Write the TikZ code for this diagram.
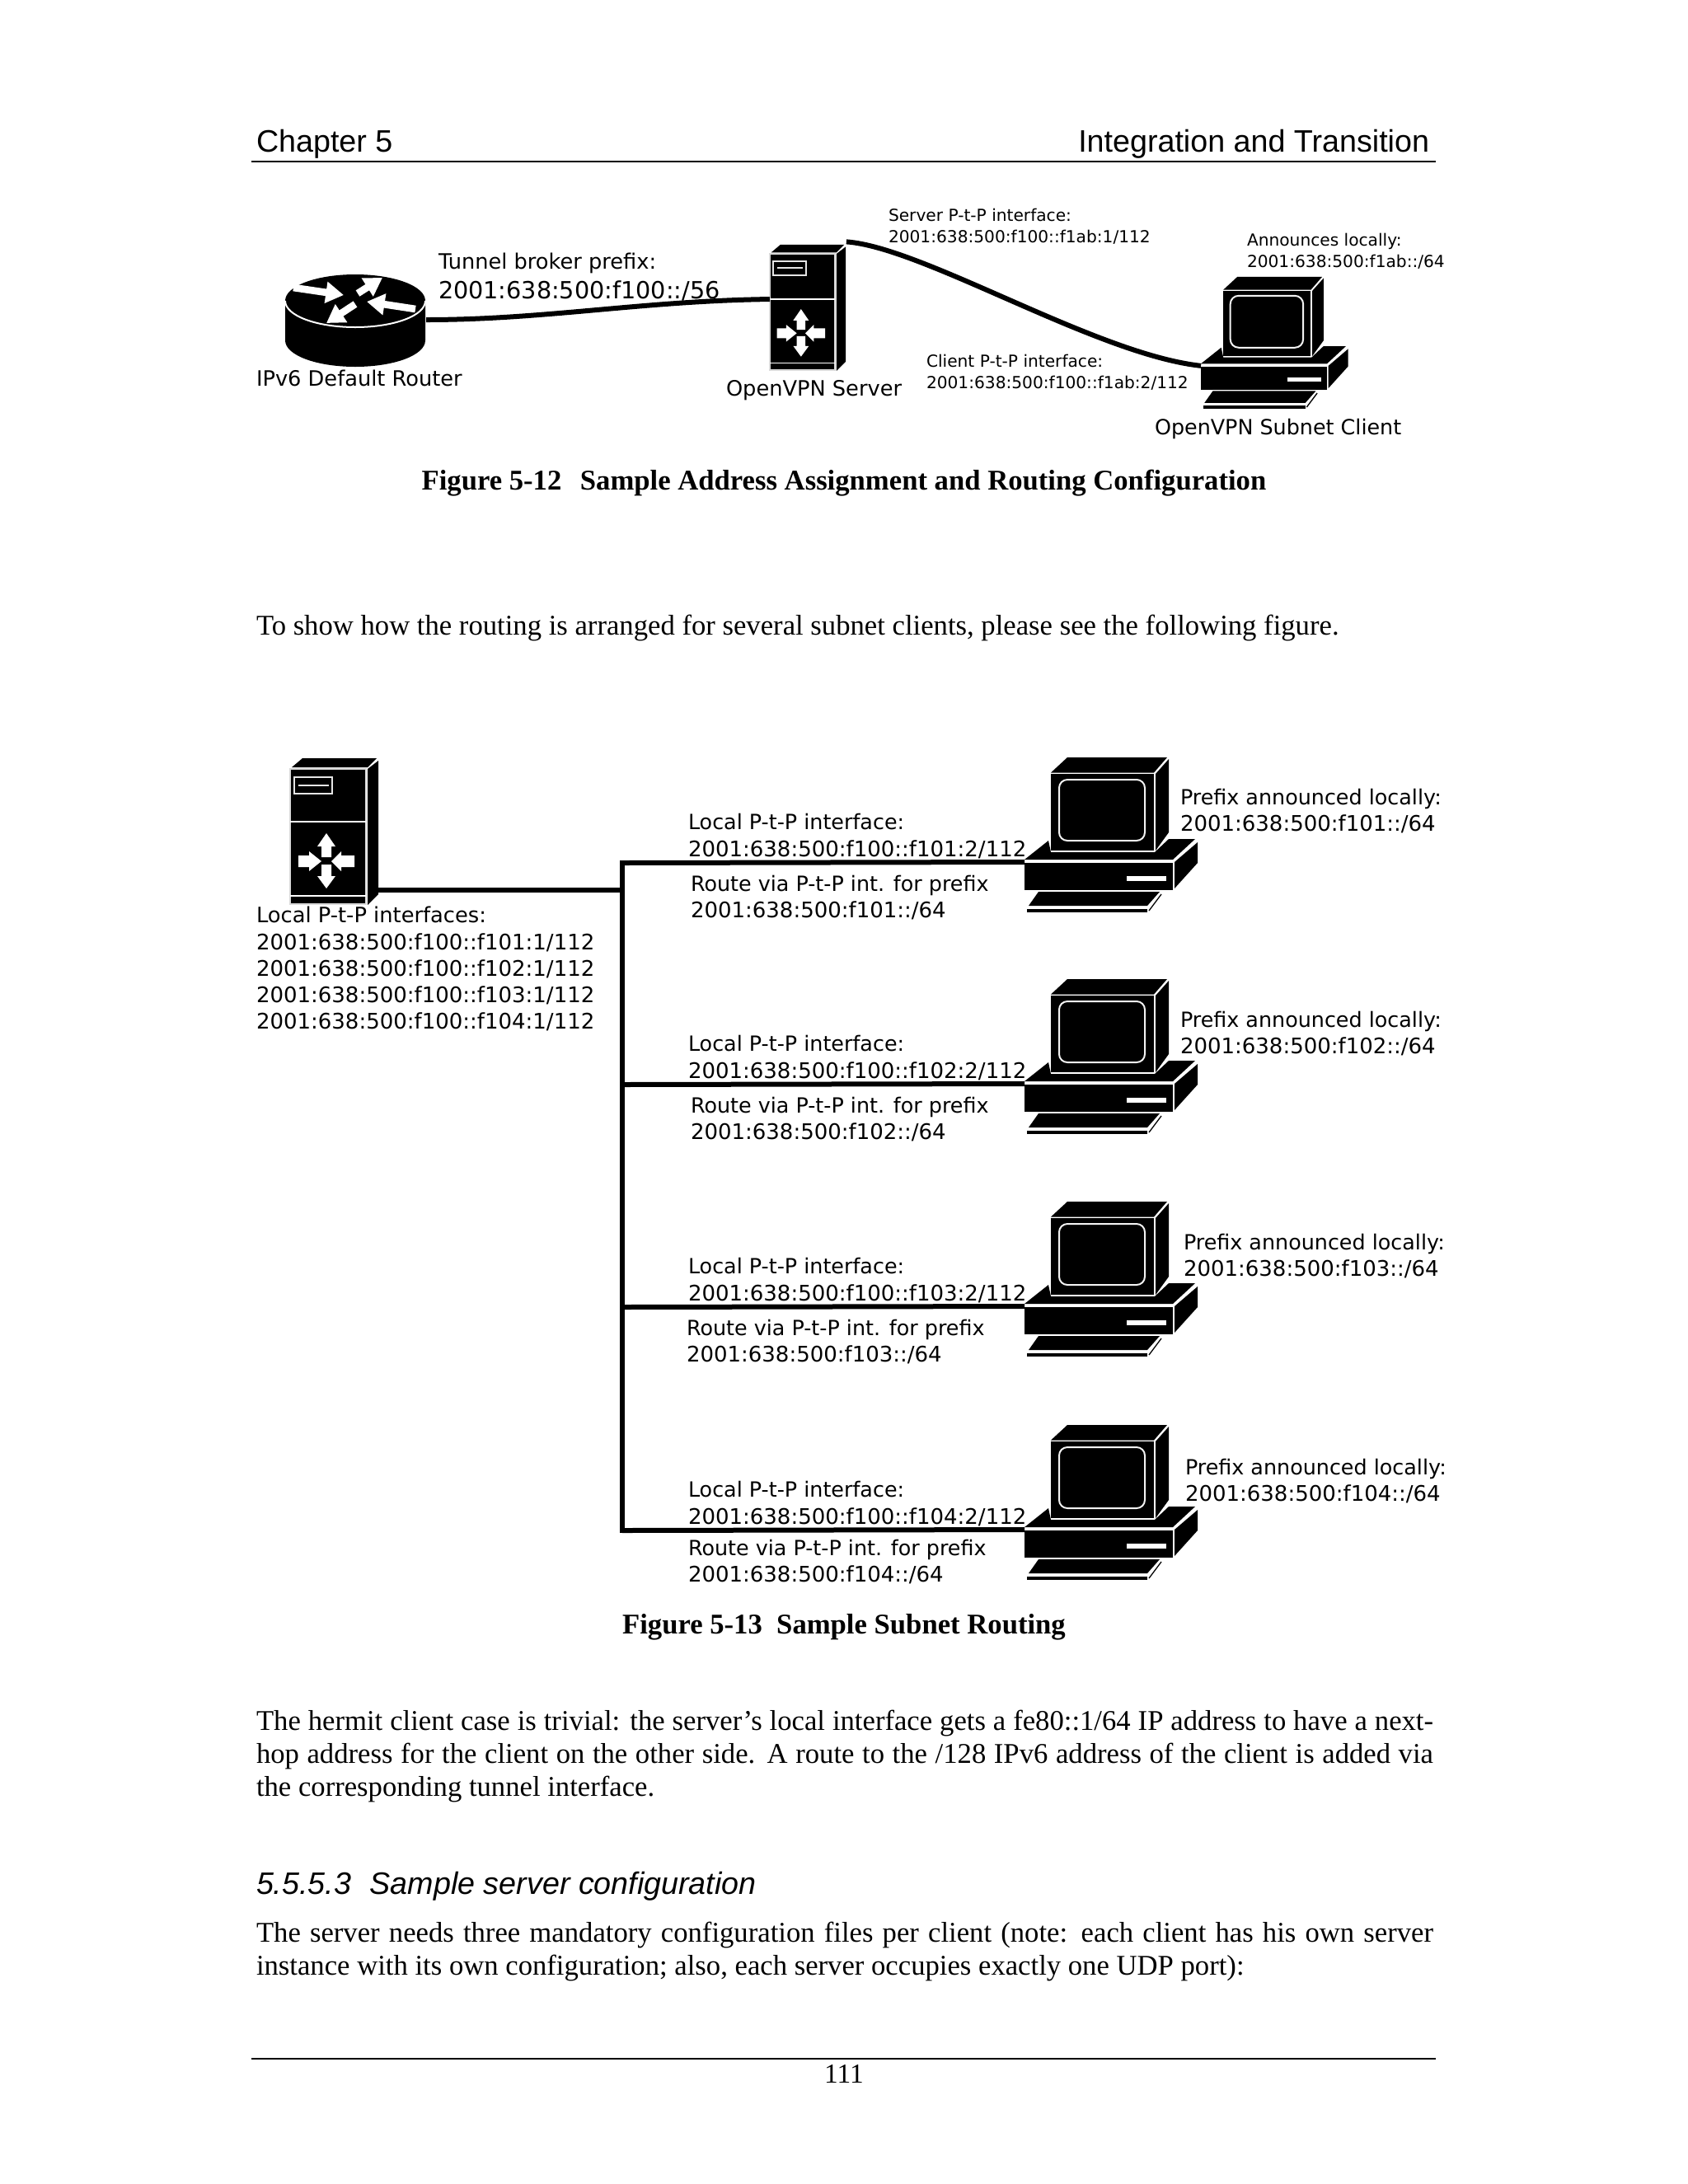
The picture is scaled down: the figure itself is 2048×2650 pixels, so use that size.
\documentclass[tikz,border=0pt]{standalone}
\usepackage{fontspec}
\setmainfont{Liberation Serif}
\setsansfont{Liberation Sans}
\newfontfamily\labfont{DejaVu Sans}
\usetikzlibrary{arrows.meta}
\tikzset{
  txt/.style={anchor=base west,inner sep=0pt,outer sep=0pt},
  labn/.style={txt,font=\labfont\fontsize{8.6pt}{10pt}\selectfont},
  labw/.style={txt,font=\labfont\fontsize{7.7pt}{10pt}\selectfont},
  labl/.style={txt,font=\labfont\fontsize{7.8pt}{9pt}\selectfont},
  labt/.style={txt,font=\labfont\fontsize{7.62pt}{9pt}\selectfont},
  labs/.style={txt,font=\labfont\fontsize{6.05pt}{7pt}\selectfont},
  bodytxt/.style={txt,font=\fontsize{10.4pt}{12pt}\selectfont},
  captxt/.style={inner sep=0pt,anchor=base,font=\bfseries\fontsize{10.4pt}{12pt}\selectfont},
  headtxt/.style={txt,font=\sffamily\fontsize{11.3pt}{14pt}\selectfont},
  wire/.style={line width=1.8pt,black},
  rulel/.style={line width=.4pt,black},
  rarrow/.style={line width=2.6pt,white,-{Triangle[length=6.5pt,width=7.5pt]}},
  pics/server/.style={code={
    \fill[black] (2,-2) -- (15,-13) -- (105,-13) -- (94,-2) -- cycle;
    \fill[black] (94,0) -- (107,-10) -- (107,152) -- (94,165) -- cycle;
    \fill[black,draw=white!85!black,line width=.45pt] (0,0) rectangle (92,164);
    \draw[white,line width=.5pt] (0,64) -- (92,64) (0,154) -- (92,154);
    \draw[white!90!black,line width=.55pt] (5,10) rectangle (51,30);
    \draw[white!90!black,line width=.55pt] (10,20) -- (47,20);
    \fill[white] (44,78) -- (55,94) -- (50,94) -- (50,107) -- (38,107) -- (38,94) -- (33,94) -- cycle;
    \fill[white] (44,145) -- (55,130) -- (50,130) -- (50,116) -- (38,116) -- (38,130) -- (33,130) -- cycle;
    \fill[white] (10,105) -- (23,105) -- (23,100) -- (38,112) -- (23,124) -- (23,119) -- (10,119) -- cycle;
    \fill[white] (78,105) -- (62,105) -- (62,100) -- (50,112) -- (62,124) -- (62,119) -- (78,119) -- cycle;
    \coordinate (-w) at (0,64);
    \coordinate (-e) at (107,147);
    \coordinate (-ne) at (108,-17);
  }},
  pics/pc/.style={code={
    % monitor, origin at base front left
    \fill[black] (32,-107.5) -- (52,-126) -- (173,-126) -- (157,-107.5) -- cycle;
    \fill[black] (159,-106) -- (175,-124) -- (175,-35) -- (159,-13) -- cycle;
    \fill[black] (32,-106) rectangle (157,-13);
    \fill[black,draw=white!95!black,line width=.6pt,rounded corners=3pt] (42,-99) rectangle (146,-25);
    % base
    \fill[black] (0,-2) -- (29,-25) -- (32,-11) -- (158,-11) -- (175,-27) -- (207,-27) -- (180,-2) -- cycle;
    \fill[black] (0,2) rectangle (180,35);
    \fill[black] (182,1) -- (210,-23) -- (210,2) -- (182,33) -- cycle;
    \fill[white] (124,18) rectangle (172,24);
    % keyboard
    \fill[black] (17,37) -- (164,37) -- (149,54) -- (5,54) -- cycle;
    \fill[black] (3,58) rectangle (149,62);
    \draw[black,line width=.4pt] (151,60) -- (166,40);
    \coordinate (-w) at (0,1);
  }}
}
\begin{document}
\begin{tikzpicture}[x=0.3pt,y=-0.3pt]
\fill[white] (0,0) rectangle (2048,2650);
\useasboundingbox (0,0) rectangle (2048,2650);

% page furniture
\node[headtxt] (hl) at (311,184) {Chapter 5};
\node[headtxt,anchor=base east] (hr) at (1734,184) {Integration and Transition};
\coordinate (rt1) at (305,196); \coordinate (rt2) at (1742,196);
\draw[rulel] (rt1) -- (rt2);
\coordinate (rb1) at (305,2498); \coordinate (rb2) at (1742,2498);
\draw[rulel] (rb1) -- (rb2);
\node[captxt,font=\fontsize{10pt}{12pt}\selectfont] (pgno) at (1024,2527) {111};

% figure 5-12
\fill[black] (346,365) -- (346,413) .. controls (346,431) and (384,445) .. (431,445) .. controls (478,445) and (516,431) .. (516,413) -- (516,365) .. controls (516,347) and (478,333) .. (431,333) .. controls (384,333) and (346,347) .. (346,365) -- cycle;
\draw[white,line width=.6pt] (346,365) .. controls (346,383) and (384,397) .. (431,397) .. controls (478,397) and (516,383) .. (516,365);
\draw[rarrow] (356,349) -- (417,358);
\draw[rarrow] (434,356) -- (464,337);
\draw[rarrow] (504,375) -- (445,366);
\draw[rarrow] (431,369) -- (396,392);
\coordinate (rt-e) at (517,388);

\pic (sa) [scale=.86] at (934,308) {server};
\pic (ca) [scale=.85] at (1457,443) {pc};

\draw[wire] (rt-e) .. controls (660,388) and (780,365) .. (sa-w);
\draw[wire] (sa-ne) .. controls (1120,300) and (1330,430) .. (ca-w);

\node[labw] (l1) at (532,326) {Tunnel broker prefix:};
\node[labn] (l2) at (532,362) {2001:638:500:f100::/56};
\node[labw] (l3) at (311,468) {IPv6 Default Router};
\node[labw] (l4) at (881,480) {OpenVPN Server};
\node[labs] (l5) at (1078,268) {Server P-t-P interface:};
\node[labs] (l6) at (1078,294) {2001:638:500:f100::f1ab:1/112};
\node[labs] (l7) at (1124,445) {Client P-t-P interface:};
\node[labs] (l8) at (1124,471) {2001:638:500:f100::f1ab:2/112};
\node[labs] (l9) at (1513,298) {Announces locally:};
\node[labs] (l10) at (1513,324) {2001:638:500:f1ab::/64};
\node[labt] (l11) at (1401,527) {OpenVPN Subnet Client};

\node[captxt] (cap1) at (1024,594) {Figure 5-12\hspace{.4em} Sample Address Assignment and Routing Configuration};
\node[bodytxt] (p0) at (311,770) {To show how the routing is arranged for several subnet clients, please see the following figure.};

% figure 5-13
\pic (sb) at (352,933) {server};
\node[labl,font=\labfont\fontsize{7.72pt}{9pt}\selectfont] (m0) at (311,1119) {Local P-t-P interfaces:};
\node[labl] (m1) at (311,1152) {2001:638:500:f100::f101:1/112};
\node[labl] (m2) at (311,1184) {2001:638:500:f100::f102:1/112};
\node[labl] (m3) at (311,1216) {2001:638:500:f100::f103:1/112};
\node[labl] (m4) at (311,1248) {2001:638:500:f100::f104:1/112};

\coordinate (busin) at (755,1080);
\coordinate (bustop) at (755,1047);
\coordinate (busbot) at (755,1857);
\draw[wire] (sb-e) -- (busin);
\draw[wire,line cap=rect] (bustop) -- (busbot);

\foreach \i/\dy/\rx/\rdy/\px/\pdy in {1/0/838/0/1432/0, 2/269/838/269/1432/270, 3/539/833/539/1436/540, 4/810/835/806/1438/813}{
  \pic (c\i) at (1243,1045+\dy) {pc};
  \coordinate (tap\i) at (755,1047+\dy);
  \draw[wire] (tap\i) -- (c\i-w);
  \node[labt] (a\i) at (835,1006+\dy) {Local P-t-P interface:};
  \node[labl] (b\i) at (835,1039+\dy) {2001:638:500:f100::f10\i:2/112};
  \node[labt] (d\i) at (\rx,1081+\rdy) {Route via P-t-P int. for prefix};
  \node[labl] (e\i) at (\rx,1113+\rdy) {2001:638:500:f10\i::/64};
  \node[labt] (f\i) at (\px,976+\pdy) {Prefix announced locally:};
  \node[labl] (g\i) at (\px,1008+\pdy) {2001:638:500:f10\i::/64};
}

\node[captxt] (cap2) at (1024,1982) {Figure 5-13\hspace{.5em}Sample Subnet Routing};

\node[bodytxt] (p1) at (311,2099) {\makebox[428.4pt][s]{The hermit client case is trivial: the server’s local interface gets a fe80::1/64 IP address to have a next-}};
\node[bodytxt] (p2) at (311,2139) {\makebox[428.4pt][s]{hop address for the client on the other side. A route to the /128 IPv6 address of the client is added via}};
\node[bodytxt] (p3) at (311,2179) {the corresponding tunnel interface.};
\node[headtxt,font=\sffamily\itshape\fontsize{11.3pt}{14pt}\selectfont] (h1) at (311,2298) {5.5.5.3\hspace{.6em}Sample server configuration};
\node[bodytxt] (p4) at (311,2356) {\makebox[428.4pt][s]{The server needs three mandatory configuration files per client (note: each client has his own server}};
\node[bodytxt] (p5) at (311,2396) {instance with its own configuration; also, each server occupies exactly one UDP port):};
\end{tikzpicture}
\end{document}
